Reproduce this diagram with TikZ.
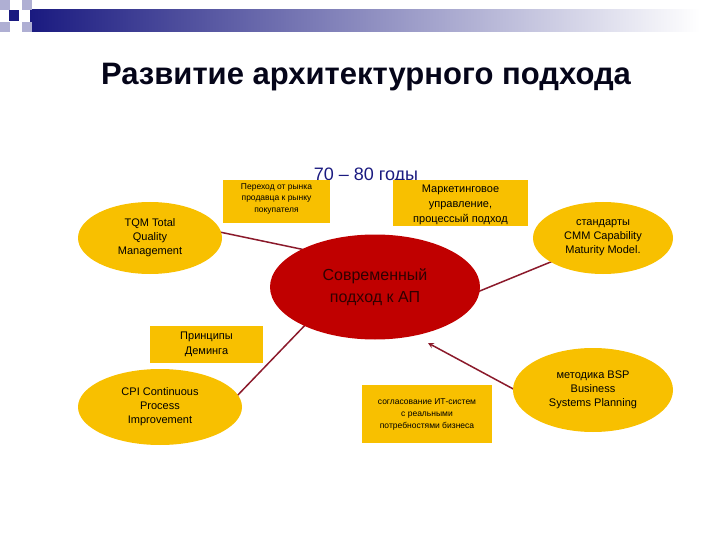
\documentclass[tikz,border=0pt]{standalone}
\usepackage{fontspec}
\setmainfont{Liberation Sans}
\usetikzlibrary{shapes.geometric,backgrounds}
\definecolor{yel}{HTML}{F8C000}
\definecolor{rd}{HTML}{C00000}
\definecolor{ln}{HTML}{8B1A2B}
\definecolor{navy}{HTML}{1A1A80}
\begin{document}
\begin{tikzpicture}[x=1pt,y=-1pt,
 oval/.style={ellipse,fill=yel,align=center,font=\fontsize{11}{14}\selectfont,inner sep=0pt},
 ybox/.style={fill=yel,align=center,inner sep=0pt},
 conn/.style={ln,line width=1.5pt}]
\useasboundingbox (0,0) rectangle (720,540);
% top bar
\shade[left color=navy,right color=white] (30,10) rectangle (700,32);
\fill[navy!35] (0,0) rectangle (10,10);
\fill[navy!35] (22,0) rectangle (32,10);
\fill[navy!35] (22,22) rectangle (32,32);
\fill[navy!35] (0,22) rectangle (10,32);
\fill[navy] (9,10) rectangle (19,21);
\node[font=\bfseries\fontsize{31}{36}\selectfont,text=black!80!navy] (title) at (366,77) {Развитие архитектурного подхода};
\node[font=\fontsize{18}{20}\selectfont,text=navy] (years) at (366,176) {70 – 80 годы};
% boxes
\node[ybox,minimum width=107,minimum height=43,anchor=north west] (b1) at (223,180) {};
\node[font=\fontsize{8.5}{11.5}\selectfont,align=center,anchor=north] (t1) at (276.5,180) {Переход от рынка\\продавца к рынку\\покупателя};
\node[ybox,minimum width=135,minimum height=46,anchor=north west] (b2) at (393,180) {};
\node[font=\fontsize{11}{15}\selectfont,align=center,anchor=north] (t2) at (460.5,181) {Маркетинговое\\управление,\\процессый подход};
\node[ybox,minimum width=113,minimum height=37,anchor=north west] (b3) at (150,326) {};
\node[font=\fontsize{11}{15}\selectfont,align=center] (t3) at (206.5,344.5) {Принципы\\Деминга};
\node[ybox,minimum width=130,minimum height=58,anchor=north west] (b4) at (362,385) {};
\node[font=\fontsize{8.5}{12}\selectfont,align=center] (t4) at (427,414) {согласование ИТ-систем\\с реальными\\потребностями бизнеса};
% ellipses
\node[oval,minimum width=144,minimum height=72] (tqm) at (150,238) {TQM Total\\Quality\\Management};
\node[oval,minimum width=140,minimum height=72] (cmm) at (603,238) {стандарты\\CMM Capability\\Maturity Model.};
\node[oval,minimum width=164,minimum height=76] (cpi) at (160,407) {CPI Continuous\\Process\\Improvement};
\node[oval,minimum width=160,minimum height=84] (bsp) at (593,390) {методика BSP\\Business\\Systems Planning};
\node[ellipse,fill=rd,minimum width=210,minimum height=105,inner sep=0pt,align=center,font=\fontsize{16}{22}\selectfont,text=black!75!rd] (core) at (375,287) {Современный\\подход к АП};
% connector ends
\coordinate (a1) at (210,230); \coordinate (a2) at (315,252);
\coordinate (c1) at (580,250); \coordinate (c2) at (470,295);
\coordinate (p1) at (235,398); \coordinate (p2) at (310,320);
\coordinate (s1) at (530,398); \coordinate (s2) at (428,343);
\begin{scope}[on background layer]
\draw[conn] (a1) -- (a2);
\draw[conn] (c1) -- (c2);
\draw[conn] (p1) -- (p2);
\draw[conn,-stealth] (s1) -- (s2);
\end{scope}
\end{tikzpicture}
\end{document}
